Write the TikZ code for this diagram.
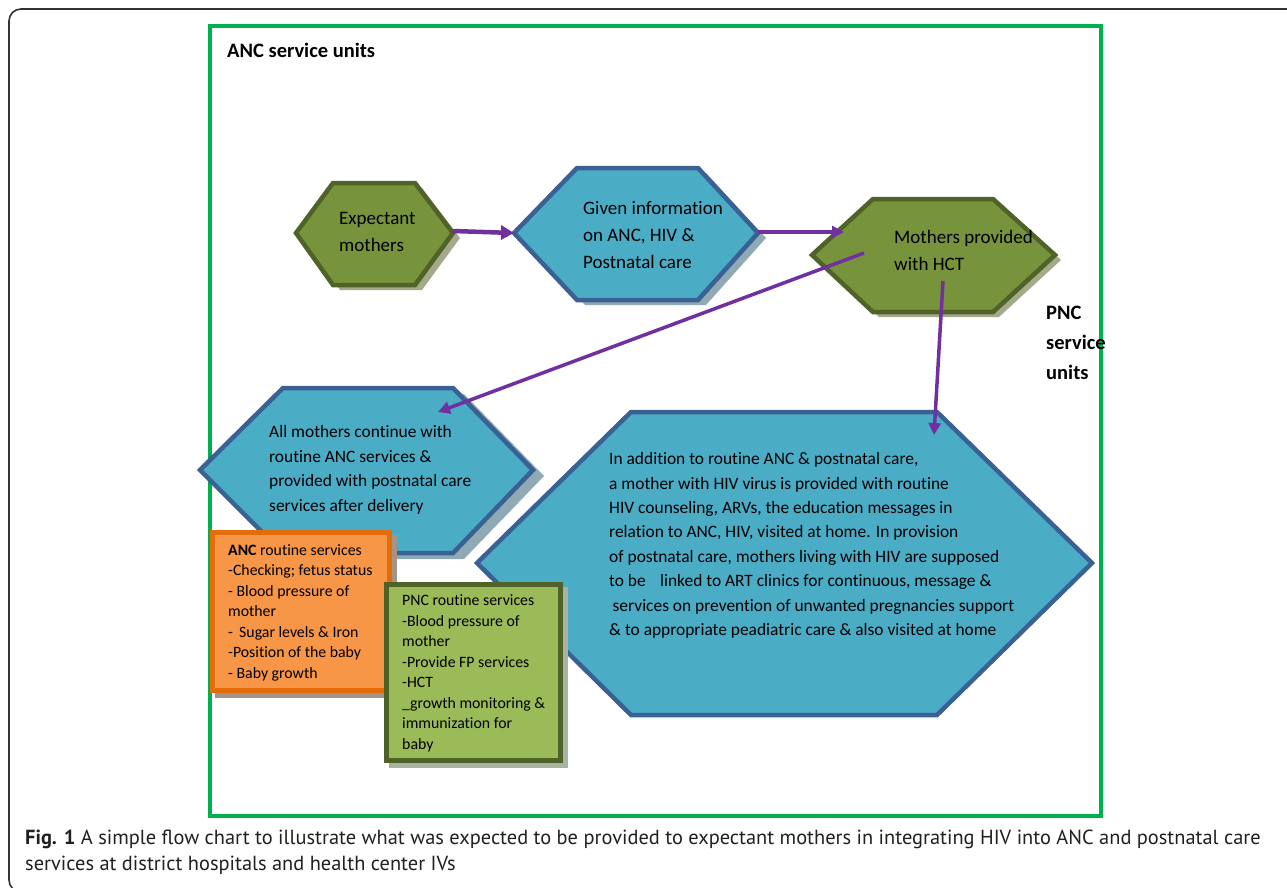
\documentclass[tikz,border=0pt]{standalone}
\usepackage{fontspec}
\setmainfont{Carlito}[Ligatures=NoCommon]
\newfontfamily\captionfont{PT Sans}
\usetikzlibrary{arrows.meta}

\definecolor{olivefill}{HTML}{77933C}
\definecolor{olivedraw}{HTML}{4F6228}
\definecolor{oliveshade}{HTML}{A4A98C}
\definecolor{bluefill}{HTML}{4BACC6}
\definecolor{bluedraw}{HTML}{3A6194}
\definecolor{blueshade}{HTML}{8FAAB4}
\definecolor{orangefill}{HTML}{F79646}
\definecolor{orangedraw}{HTML}{E46C0A}
\definecolor{orangeshade}{HTML}{A39488}
\definecolor{greenfill}{HTML}{9BBB59}
\definecolor{greenshade}{HTML}{A9B1A2}
\definecolor{unitframe}{HTML}{00B050}
\definecolor{flowpurple}{HTML}{7030A0}
\definecolor{captiongray}{HTML}{231F20}

% hexagon: left x, inner left x, inner right x, top y, middle y, bottom y, right x
\newcommand{\hexpath}[7]{(#1,#5) -- (#2,#4) -- (#3,#4) -- (#7,#5) -- (#3,#6) -- (#2,#6) -- cycle}

\begin{document}
\begin{tikzpicture}[x=1pt,y=-1pt,
  hexolive/.style={fill=olivefill, draw=olivedraw, line width=4.5pt},
  hexblue/.style={fill=bluefill, draw=bluedraw, line width=4.5pt},
  flow/.style={draw=flowpurple, line width=3.5pt, -{Triangle[length=12pt,width=12pt]}},
  txt/.style={inner sep=0pt, align=left, anchor=west, text=black},
  bigtxt/.style={txt, font=\fontsize{19}{27}\selectfont},
  midtxt/.style={txt, font=\fontsize{17.4}{24.5}\selectfont},
  longtxt/.style={txt, font=\fontsize{17.4}{24.4}\selectfont},
  boxtxt/.style={txt, font=\fontsize{15.8}{20.5}\selectfont},
  unittxt/.style={txt, font=\bfseries\fontsize{20.5}{30}\selectfont},
]
\useasboundingbox (0,0) rectangle (1287,887);
\fill[white] (0,0) rectangle (1287,887);

% page frame
\draw[line width=1.6pt, draw=black!80, rounded corners=12pt] (1300,9) -- (9,9) -- (9,892) -- (40,892);

% service-unit frame
\draw[draw=unitframe, line width=4pt] (210,26) rectangle (1101,816);

% hexagons with their shadows
\fill[oliveshade] [shift={(7,5)}] \hexpath{296}{333}{415}{183}{233}{285}{453};
\path[hexolive] \hexpath{296}{333}{415}{183}{233}{285}{453};

\fill[blueshade] [shift={(8,5)}] \hexpath{514}{577}{698}{168}{233}{300}{758};
\path[hexblue] \hexpath{514}{577}{698}{168}{233}{300}{758};

\fill[oliveshade] [shift={(6,5)}] \hexpath{812}{873}{993}{199}{255}{312}{1055};
\path[hexolive] \hexpath{812}{873}{993}{199}{255}{312}{1055};

\fill[blueshade] [shift={(11,6)}] \hexpath{200}{283}{453}{388}{470}{553}{533};
\path[hexblue] \hexpath{200}{283}{453}{388}{470}{553}{533};

\path[hexblue] \hexpath{477}{631}{937}{412}{563}{715}{1092};

% hexagon texts
\node[bigtxt] (expect) at (339,231.5) {Expectant\\mothers};
\node[bigtxt] (info) at (583,235) {Given information\\on ANC, HIV \&\\Postnatal care};
\node[bigtxt] (hct) at (894,250) {Mothers provided\\with HCT};
\node[midtxt] (allm) at (269,470) {All mothers continue with\\routine ANC services \&\\provided with postnatal care\\services after delivery};
\node[longtxt] (hivm) at (609,545.5) {In addition to routine ANC \& postnatal care,\\
a mother with HIV virus is provided with routine\\
HIV counseling, ARVs, the education messages in\\
relation to ANC, HIV, visited at home. In provision\\
of postnatal care, mothers living with HIV are supposed\\
to be\hspace{0.6em} linked to ART clinics for continuous, message \&\\
\hspace{0.2em}services on prevention of unwanted pregnancies support\\
\& to appropriate peadiatric care \& also visited at home};

% connector end points
\coordinate (expR) at (453,231);
\coordinate (infoL) at (514,233);
\coordinate (infoR) at (758,232);
\coordinate (hctIn) at (844,232);
\coordinate (hctA) at (864,253);
\coordinate (allmIn) at (438,412);
\coordinate (hctB) at (943,281);
\coordinate (hivmIn) at (934,435);

\draw[flow, line width=4.5pt, -{Triangle[length=13pt,width=14pt]}] (expR) -- (infoL);
\draw[flow] (infoR) -- (hctIn);
\draw[flow] (hctA) -- (allmIn);
\draw[flow] (hctB) -- (hivmIn);

% routine service boxes
\fill[orangeshade] (215,535) rectangle (397,698);
\draw[fill=orangefill, draw=orangedraw, line width=5pt] (212.5,532.5) rectangle (389.5,690.5);
\node[boxtxt] (anc) at (228,612.5) {\textbf{ANC} routine services\\-Checking; fetus status\\- Blood pressure of\\mother\\- \,Sugar levels \& Iron\\-Position of the baby\\- Baby growth};

\fill[greenshade] (389,587) rectangle (568,768);
\draw[fill=greenfill, draw=olivedraw, line width=5pt] (386.5,584.5) rectangle (560.5,760.5);
\node[boxtxt] (pnc) at (402,673.5) {PNC routine services\\-Blood pressure of\\mother\\-Provide FP services\\-HCT\\\_growth monitoring \&\\immunization for\\baby};

% unit labels
\node[unittxt] (ancunits) at (227,50) {ANC service units};
\node[unittxt] (pncunits) at (1046,343) {PNC\\service\\units};

% caption
\node[txt, text=captiongray, font=\captionfont\fontsize{20.4}{26}\selectfont, anchor=north west] (caption) at (25,830)
  {\textbf{Fig. 1} A simple flow chart to illustrate what was expected to be provided to expectant mothers in integrating HIV into ANC and postnatal care\\services at district hospitals and health center IVs};
\end{tikzpicture}
\end{document}
